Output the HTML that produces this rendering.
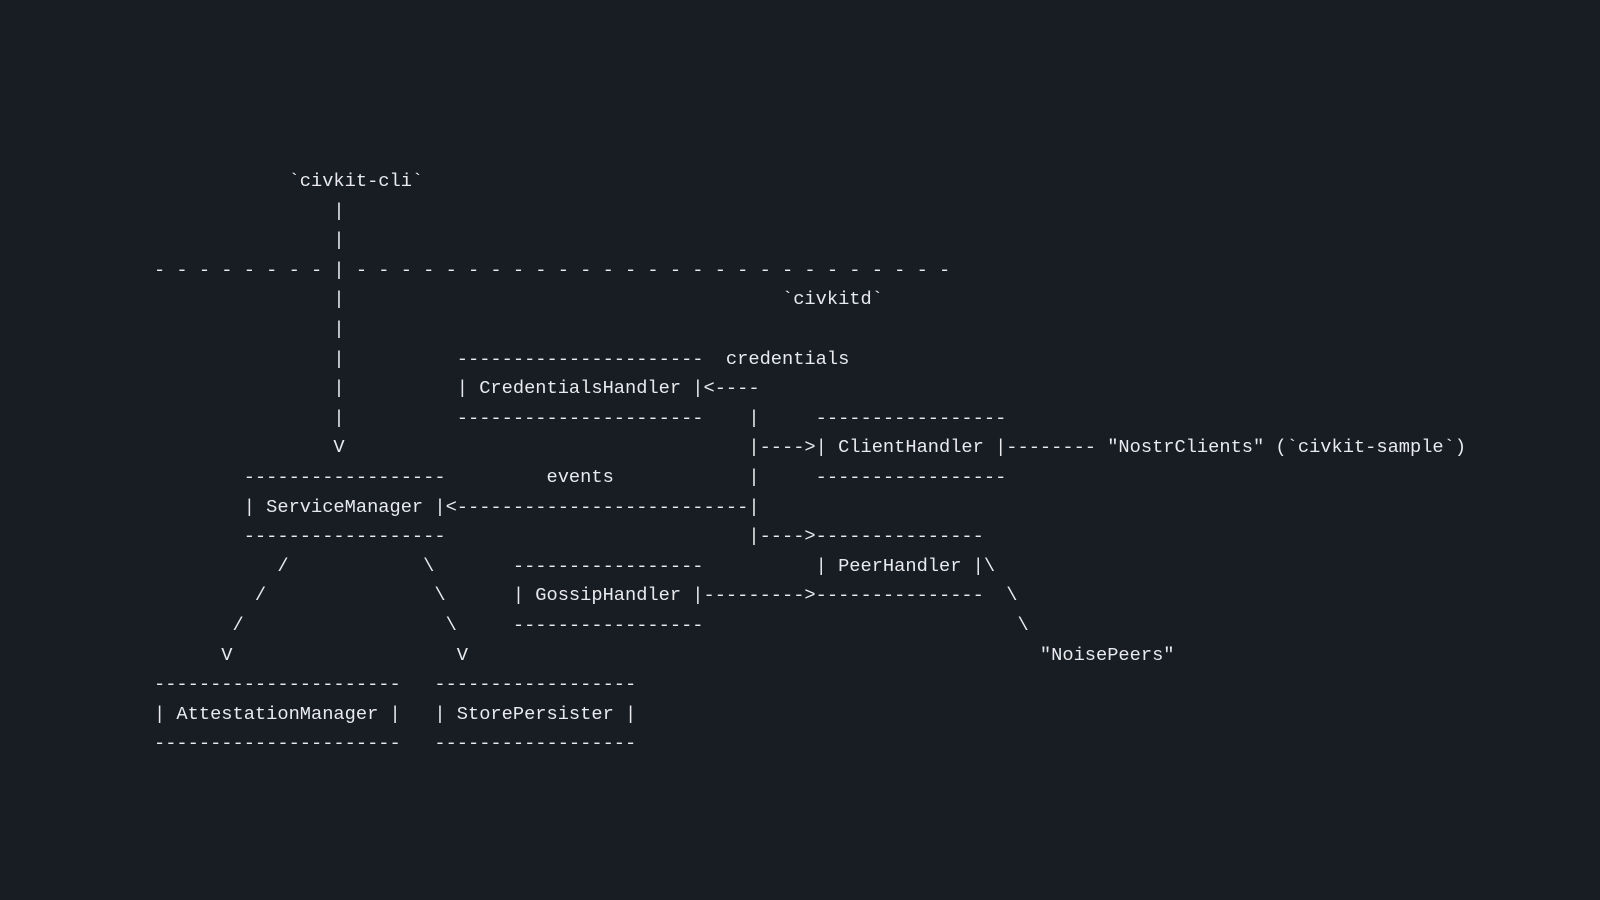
<!DOCTYPE html>
<html><head><meta charset="utf-8"><style>
html,body{margin:0;padding:0;width:1600px;height:900px;background:#181c23;overflow:hidden}
pre{position:absolute;left:154px;top:167px;margin:0;font-family:"Liberation Mono",monospace;font-size:18.7px;line-height:29.6px;color:#e8eaed}
</style></head><body>
<pre>            `civkit-cli`
                |
                |
- - - - - - - - | - - - - - - - - - - - - - - - - - - - - - - - - - - -
                |                                       `civkitd`
                |
                |          ----------------------  credentials
                |          | CredentialsHandler |&lt;----
                |          ----------------------    |     -----------------
                V                                    |----&gt;| ClientHandler |-------- "NostrClients" (`civkit-sample`)
        ------------------         events            |     -----------------
        | ServiceManager |&lt;--------------------------|
        ------------------                           |----&gt;---------------
           /            \       -----------------          | PeerHandler |\
         /               \      | GossipHandler |---------&gt;---------------  \
       /                  \     -----------------                            \
      V                    V                                                   "NoisePeers"
----------------------   ------------------
| AttestationManager |   | StorePersister |
----------------------   ------------------</pre>
</body></html>
